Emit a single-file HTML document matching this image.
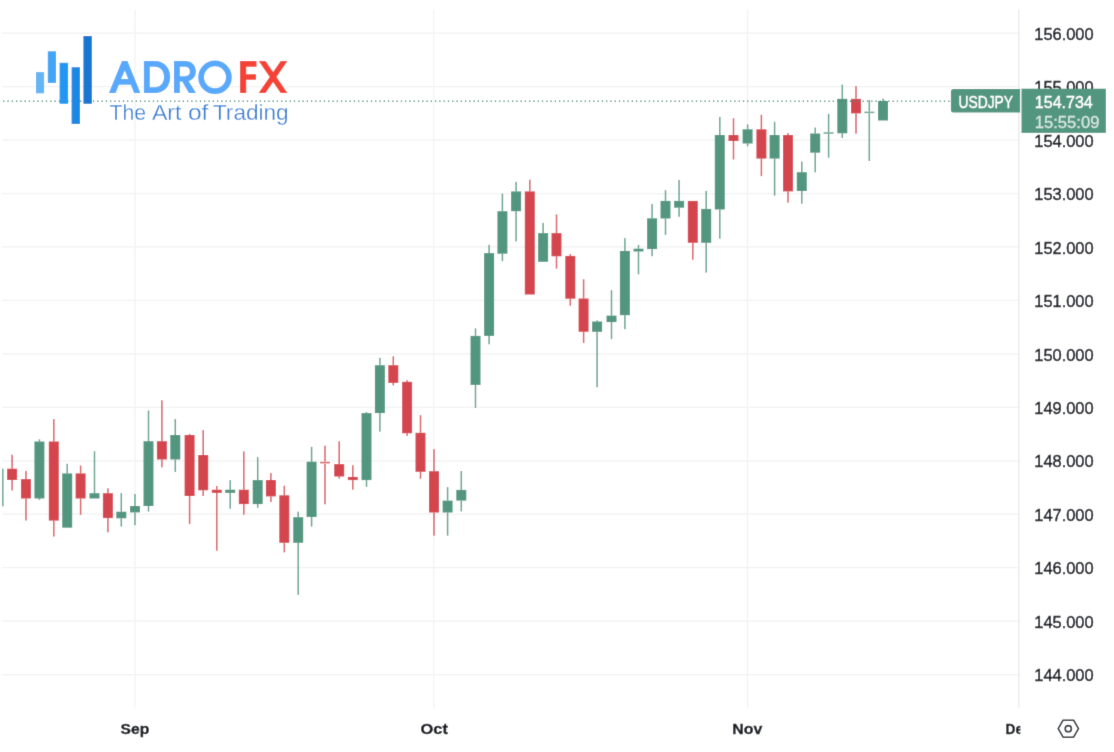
<!DOCTYPE html>
<html><head><meta charset="utf-8"><title>USDJPY</title>
<style>html,body{margin:0;padding:0;background:#fff;}body{width:1114px;height:752px;overflow:hidden;}svg{display:block;}text{font-family:"Liberation Sans",sans-serif;}</style>
</head><body>
<svg width="1114" height="752" viewBox="0 0 1114 752">
<defs><filter id="soft" x="0" y="0" width="1114" height="752" filterUnits="userSpaceOnUse"><feConvolveMatrix order="3" kernelMatrix="0.0100 0.0800 0.0100 0.0800 0.6400 0.0800 0.0100 0.0800 0.0100" edgeMode="duplicate" preserveAlpha="true"/></filter><clipPath id="plot"><rect x="2.2" y="0" width="1016.6" height="752"/></clipPath><clipPath id="plot2"><rect x="0" y="0" width="1020.3" height="752"/></clipPath></defs>
<g filter="url(#soft)">
<rect width="1114" height="752" fill="#ffffff"/>
<g stroke="#f1f2f2" stroke-width="1.25" fill="none">
<line x1="2.2" y1="33.16" x2="1019.6" y2="33.16"/>
<line x1="2.2" y1="86.61" x2="1019.6" y2="86.61"/>
<line x1="2.2" y1="140.06" x2="1019.6" y2="140.06"/>
<line x1="2.2" y1="193.51" x2="1019.6" y2="193.51"/>
<line x1="2.2" y1="246.96" x2="1019.6" y2="246.96"/>
<line x1="2.2" y1="300.41" x2="1019.6" y2="300.41"/>
<line x1="2.2" y1="353.86" x2="1019.6" y2="353.86"/>
<line x1="2.2" y1="407.31" x2="1019.6" y2="407.31"/>
<line x1="2.2" y1="460.76" x2="1019.6" y2="460.76"/>
<line x1="2.2" y1="514.21" x2="1019.6" y2="514.21"/>
<line x1="2.2" y1="567.66" x2="1019.6" y2="567.66"/>
<line x1="2.2" y1="621.11" x2="1019.6" y2="621.11"/>
<line x1="2.2" y1="674.56" x2="1019.6" y2="674.56"/>
<line x1="134.9" y1="10.0" x2="134.9" y2="707.6"/>
<line x1="433.8" y1="10.0" x2="433.8" y2="707.6"/>
<line x1="747.6" y1="10.0" x2="747.6" y2="707.6"/>
</g>
<line x1="1018.8" y1="10.0" x2="1018.8" y2="707.6" stroke="#ecedee" stroke-width="1.6"/>
<g clip-path="url(#plot)">
<rect x="-6.50" y="468.7" width="10.00" height="37.7" fill="#52967f"/>
<rect x="11.35" y="454.7" width="1.50" height="14.0" fill="#d5454e" opacity="0.88"/>
<rect x="11.35" y="480.0" width="1.50" height="10.4" fill="#d5454e" opacity="0.88"/>
<rect x="7.10" y="468.7" width="10.00" height="11.3" fill="#d5454e"/>
<rect x="25.21" y="470.9" width="1.50" height="8.2" fill="#d5454e" opacity="0.88"/>
<rect x="25.21" y="498.5" width="1.50" height="22.1" fill="#d5454e" opacity="0.88"/>
<rect x="20.96" y="479.1" width="10.00" height="19.4" fill="#d5454e"/>
<rect x="38.65" y="439.4" width="1.50" height="2.1" fill="#52967f" opacity="0.88"/>
<rect x="38.65" y="498.5" width="1.50" height="1.5" fill="#52967f" opacity="0.88"/>
<rect x="34.40" y="441.5" width="10.00" height="57.0" fill="#52967f"/>
<rect x="53.05" y="419.1" width="1.50" height="22.4" fill="#d5454e" opacity="0.88"/>
<rect x="53.05" y="520.6" width="1.50" height="16.0" fill="#d5454e" opacity="0.88"/>
<rect x="48.80" y="441.5" width="10.00" height="79.1" fill="#d5454e"/>
<rect x="66.45" y="463.8" width="1.50" height="9.6" fill="#52967f" opacity="0.88"/>
<rect x="62.20" y="473.4" width="10.00" height="54.3" fill="#52967f"/>
<rect x="79.85" y="465.5" width="1.50" height="7.9" fill="#d5454e" opacity="0.88"/>
<rect x="79.85" y="498.5" width="1.50" height="16.4" fill="#d5454e" opacity="0.88"/>
<rect x="75.60" y="473.4" width="10.00" height="25.1" fill="#d5454e"/>
<rect x="93.75" y="451.3" width="1.50" height="41.9" fill="#52967f" opacity="0.88"/>
<rect x="89.50" y="493.2" width="10.00" height="5.3" fill="#52967f"/>
<rect x="107.15" y="488.3" width="1.50" height="4.9" fill="#d5454e" opacity="0.88"/>
<rect x="107.15" y="518.1" width="1.50" height="14.2" fill="#d5454e" opacity="0.88"/>
<rect x="102.90" y="493.2" width="10.00" height="24.9" fill="#d5454e"/>
<rect x="120.55" y="493.0" width="1.50" height="18.7" fill="#52967f" opacity="0.88"/>
<rect x="120.55" y="518.3" width="1.50" height="8.3" fill="#52967f" opacity="0.88"/>
<rect x="116.30" y="511.7" width="10.00" height="6.6" fill="#52967f"/>
<rect x="134.25" y="494.0" width="1.50" height="12.0" fill="#52967f" opacity="0.88"/>
<rect x="134.25" y="512.4" width="1.50" height="12.8" fill="#52967f" opacity="0.88"/>
<rect x="130.00" y="506.0" width="10.00" height="6.4" fill="#52967f"/>
<rect x="147.75" y="410.5" width="1.50" height="30.7" fill="#52967f" opacity="0.88"/>
<rect x="147.75" y="506.0" width="1.50" height="5.6" fill="#52967f" opacity="0.88"/>
<rect x="143.50" y="441.2" width="10.00" height="64.8" fill="#52967f"/>
<rect x="161.15" y="400.3" width="1.50" height="40.9" fill="#d5454e" opacity="0.88"/>
<rect x="161.15" y="459.5" width="1.50" height="7.8" fill="#d5454e" opacity="0.88"/>
<rect x="156.90" y="441.2" width="10.00" height="18.3" fill="#d5454e"/>
<rect x="174.55" y="419.0" width="1.50" height="16.0" fill="#52967f" opacity="0.88"/>
<rect x="174.55" y="459.5" width="1.50" height="12.5" fill="#52967f" opacity="0.88"/>
<rect x="170.30" y="435.0" width="10.00" height="24.5" fill="#52967f"/>
<rect x="188.85" y="433.9" width="1.50" height="1.1" fill="#d5454e" opacity="0.88"/>
<rect x="188.85" y="496.0" width="1.50" height="28.1" fill="#d5454e" opacity="0.88"/>
<rect x="184.60" y="435.0" width="10.00" height="61.0" fill="#d5454e"/>
<rect x="202.45" y="430.1" width="1.50" height="24.9" fill="#d5454e" opacity="0.88"/>
<rect x="202.45" y="490.3" width="1.50" height="5.7" fill="#d5454e" opacity="0.88"/>
<rect x="198.20" y="455.0" width="10.00" height="35.3" fill="#d5454e"/>
<rect x="216.05" y="486.0" width="1.50" height="3.7" fill="#d5454e" opacity="0.88"/>
<rect x="216.05" y="492.9" width="1.50" height="57.8" fill="#d5454e" opacity="0.88"/>
<rect x="211.80" y="489.7" width="10.00" height="3.2" fill="#d5454e"/>
<rect x="229.45" y="480.1" width="1.50" height="9.6" fill="#52967f" opacity="0.88"/>
<rect x="229.45" y="492.9" width="1.50" height="15.9" fill="#52967f" opacity="0.88"/>
<rect x="225.20" y="489.7" width="10.00" height="3.2" fill="#52967f"/>
<rect x="243.05" y="451.4" width="1.50" height="38.3" fill="#d5454e" opacity="0.88"/>
<rect x="243.05" y="504.1" width="1.50" height="10.7" fill="#d5454e" opacity="0.88"/>
<rect x="238.80" y="489.7" width="10.00" height="14.4" fill="#d5454e"/>
<rect x="256.95" y="457.1" width="1.50" height="23.0" fill="#52967f" opacity="0.88"/>
<rect x="256.95" y="504.1" width="1.50" height="3.7" fill="#52967f" opacity="0.88"/>
<rect x="252.70" y="480.1" width="10.00" height="24.0" fill="#52967f"/>
<rect x="270.15" y="473.0" width="1.50" height="7.0" fill="#d5454e" opacity="0.88"/>
<rect x="270.15" y="496.4" width="1.50" height="5.7" fill="#d5454e" opacity="0.88"/>
<rect x="265.90" y="480.0" width="10.00" height="16.4" fill="#d5454e"/>
<rect x="283.55" y="485.7" width="1.50" height="9.6" fill="#d5454e" opacity="0.88"/>
<rect x="283.55" y="542.8" width="1.50" height="9.5" fill="#d5454e" opacity="0.88"/>
<rect x="279.30" y="495.3" width="10.00" height="47.5" fill="#d5454e"/>
<rect x="297.45" y="511.7" width="1.50" height="5.5" fill="#52967f" opacity="0.88"/>
<rect x="297.45" y="542.8" width="1.50" height="52.1" fill="#52967f" opacity="0.88"/>
<rect x="293.20" y="517.2" width="10.00" height="25.6" fill="#52967f"/>
<rect x="310.85" y="446.8" width="1.50" height="14.9" fill="#52967f" opacity="0.88"/>
<rect x="310.85" y="517.0" width="1.50" height="9.6" fill="#52967f" opacity="0.88"/>
<rect x="306.60" y="461.7" width="10.00" height="55.3" fill="#52967f"/>
<rect x="324.25" y="445.7" width="1.50" height="15.8" fill="#d5454e" opacity="0.88"/>
<rect x="324.25" y="463.8" width="1.50" height="40.5" fill="#d5454e" opacity="0.88"/>
<rect x="320.00" y="461.8" width="10.00" height="1.6" fill="#d5454e" opacity="0.8"/>
<rect x="338.45" y="441.2" width="1.50" height="22.9" fill="#d5454e" opacity="0.88"/>
<rect x="338.45" y="476.5" width="1.50" height="2.1" fill="#d5454e" opacity="0.88"/>
<rect x="334.20" y="464.1" width="10.00" height="12.4" fill="#d5454e"/>
<rect x="352.05" y="465.2" width="1.50" height="11.7" fill="#d5454e" opacity="0.88"/>
<rect x="352.05" y="480.1" width="1.50" height="9.6" fill="#d5454e" opacity="0.88"/>
<rect x="347.80" y="476.9" width="10.00" height="3.2" fill="#d5454e"/>
<rect x="365.75" y="412.0" width="1.50" height="1.1" fill="#52967f" opacity="0.88"/>
<rect x="365.75" y="480.1" width="1.50" height="6.8" fill="#52967f" opacity="0.88"/>
<rect x="361.50" y="413.1" width="10.00" height="67.0" fill="#52967f"/>
<rect x="379.15" y="357.8" width="1.50" height="7.4" fill="#52967f" opacity="0.88"/>
<rect x="379.15" y="413.1" width="1.50" height="18.5" fill="#52967f" opacity="0.88"/>
<rect x="374.90" y="365.2" width="10.00" height="47.9" fill="#52967f"/>
<rect x="392.55" y="356.3" width="1.50" height="8.9" fill="#d5454e" opacity="0.88"/>
<rect x="392.55" y="382.9" width="1.50" height="2.5" fill="#d5454e" opacity="0.88"/>
<rect x="388.30" y="365.2" width="10.00" height="17.7" fill="#d5454e"/>
<rect x="406.35" y="380.1" width="1.50" height="1.7" fill="#d5454e" opacity="0.88"/>
<rect x="406.35" y="433.3" width="1.50" height="2.6" fill="#d5454e" opacity="0.88"/>
<rect x="402.10" y="381.8" width="10.00" height="51.5" fill="#d5454e"/>
<rect x="419.75" y="415.2" width="1.50" height="17.6" fill="#d5454e" opacity="0.88"/>
<rect x="419.75" y="471.8" width="1.50" height="7.0" fill="#d5454e" opacity="0.88"/>
<rect x="415.50" y="432.8" width="10.00" height="39.0" fill="#d5454e"/>
<rect x="433.25" y="449.2" width="1.50" height="22.0" fill="#d5454e" opacity="0.88"/>
<rect x="433.25" y="512.5" width="1.50" height="23.2" fill="#d5454e" opacity="0.88"/>
<rect x="429.00" y="471.2" width="10.00" height="41.3" fill="#d5454e"/>
<rect x="446.85" y="487.2" width="1.50" height="13.4" fill="#52967f" opacity="0.88"/>
<rect x="446.85" y="512.5" width="1.50" height="23.2" fill="#52967f" opacity="0.88"/>
<rect x="442.60" y="500.6" width="10.00" height="11.9" fill="#52967f"/>
<rect x="460.55" y="471.0" width="1.50" height="18.9" fill="#52967f" opacity="0.88"/>
<rect x="460.55" y="500.6" width="1.50" height="10.8" fill="#52967f" opacity="0.88"/>
<rect x="456.30" y="489.9" width="10.00" height="10.7" fill="#52967f"/>
<rect x="474.75" y="328.4" width="1.50" height="7.5" fill="#52967f" opacity="0.88"/>
<rect x="474.75" y="384.9" width="1.50" height="23.0" fill="#52967f" opacity="0.88"/>
<rect x="470.50" y="335.9" width="10.00" height="49.0" fill="#52967f"/>
<rect x="488.35" y="244.8" width="1.50" height="8.3" fill="#52967f" opacity="0.88"/>
<rect x="488.35" y="335.9" width="1.50" height="8.4" fill="#52967f" opacity="0.88"/>
<rect x="484.10" y="253.1" width="10.00" height="82.8" fill="#52967f"/>
<rect x="501.65" y="193.7" width="1.50" height="17.5" fill="#52967f" opacity="0.88"/>
<rect x="501.65" y="253.7" width="1.50" height="7.5" fill="#52967f" opacity="0.88"/>
<rect x="497.40" y="211.2" width="10.00" height="42.5" fill="#52967f"/>
<rect x="515.35" y="181.8" width="1.50" height="9.6" fill="#52967f" opacity="0.88"/>
<rect x="515.35" y="211.2" width="1.50" height="30.2" fill="#52967f" opacity="0.88"/>
<rect x="511.10" y="191.4" width="10.00" height="19.8" fill="#52967f"/>
<rect x="529.05" y="179.7" width="1.50" height="11.7" fill="#d5454e" opacity="0.88"/>
<rect x="524.80" y="191.4" width="10.00" height="103.1" fill="#d5454e"/>
<rect x="542.35" y="222.9" width="1.50" height="10.2" fill="#52967f" opacity="0.88"/>
<rect x="538.10" y="233.1" width="10.00" height="28.7" fill="#52967f"/>
<rect x="555.75" y="214.4" width="1.50" height="18.7" fill="#d5454e" opacity="0.88"/>
<rect x="555.75" y="256.3" width="1.50" height="12.3" fill="#d5454e" opacity="0.88"/>
<rect x="551.50" y="233.1" width="10.00" height="23.2" fill="#d5454e"/>
<rect x="569.55" y="254.1" width="1.50" height="1.8" fill="#d5454e" opacity="0.88"/>
<rect x="569.55" y="298.7" width="1.50" height="7.1" fill="#d5454e" opacity="0.88"/>
<rect x="565.30" y="255.9" width="10.00" height="42.8" fill="#d5454e"/>
<rect x="582.85" y="279.3" width="1.50" height="19.2" fill="#d5454e" opacity="0.88"/>
<rect x="582.85" y="331.8" width="1.50" height="11.2" fill="#d5454e" opacity="0.88"/>
<rect x="578.60" y="298.5" width="10.00" height="33.3" fill="#d5454e"/>
<rect x="596.35" y="320.3" width="1.50" height="1.2" fill="#52967f" opacity="0.88"/>
<rect x="596.35" y="331.8" width="1.50" height="55.5" fill="#52967f" opacity="0.88"/>
<rect x="592.10" y="321.5" width="10.00" height="10.3" fill="#52967f"/>
<rect x="610.75" y="290.2" width="1.50" height="25.4" fill="#52967f" opacity="0.88"/>
<rect x="610.75" y="322.1" width="1.50" height="17.0" fill="#52967f" opacity="0.88"/>
<rect x="606.50" y="315.6" width="10.00" height="6.5" fill="#52967f"/>
<rect x="624.15" y="238.1" width="1.50" height="12.8" fill="#52967f" opacity="0.88"/>
<rect x="624.15" y="315.2" width="1.50" height="14.0" fill="#52967f" opacity="0.88"/>
<rect x="619.90" y="250.9" width="10.00" height="64.3" fill="#52967f"/>
<rect x="637.75" y="244.9" width="1.50" height="3.8" fill="#52967f" opacity="0.88"/>
<rect x="637.75" y="251.5" width="1.50" height="22.8" fill="#52967f" opacity="0.88"/>
<rect x="633.50" y="248.7" width="10.00" height="2.8" fill="#52967f"/>
<rect x="651.35" y="204.0" width="1.50" height="14.3" fill="#52967f" opacity="0.88"/>
<rect x="651.35" y="249.1" width="1.50" height="7.1" fill="#52967f" opacity="0.88"/>
<rect x="647.10" y="218.3" width="10.00" height="30.8" fill="#52967f"/>
<rect x="664.75" y="190.2" width="1.50" height="10.7" fill="#52967f" opacity="0.88"/>
<rect x="664.75" y="218.5" width="1.50" height="16.4" fill="#52967f" opacity="0.88"/>
<rect x="660.50" y="200.9" width="10.00" height="17.6" fill="#52967f"/>
<rect x="678.35" y="180.0" width="1.50" height="20.9" fill="#52967f" opacity="0.88"/>
<rect x="678.35" y="207.7" width="1.50" height="9.1" fill="#52967f" opacity="0.88"/>
<rect x="674.10" y="200.9" width="10.00" height="6.8" fill="#52967f"/>
<rect x="692.05" y="242.8" width="1.50" height="17.0" fill="#d5454e" opacity="0.88"/>
<rect x="687.80" y="200.9" width="10.00" height="41.9" fill="#d5454e"/>
<rect x="705.45" y="190.9" width="1.50" height="18.0" fill="#52967f" opacity="0.88"/>
<rect x="705.45" y="242.8" width="1.50" height="29.8" fill="#52967f" opacity="0.88"/>
<rect x="701.20" y="208.9" width="10.00" height="33.9" fill="#52967f"/>
<rect x="719.05" y="116.9" width="1.50" height="18.1" fill="#52967f" opacity="0.88"/>
<rect x="719.05" y="209.5" width="1.50" height="29.2" fill="#52967f" opacity="0.88"/>
<rect x="714.80" y="135.0" width="10.00" height="74.5" fill="#52967f"/>
<rect x="732.75" y="118.2" width="1.50" height="16.8" fill="#d5454e" opacity="0.88"/>
<rect x="732.75" y="141.0" width="1.50" height="18.5" fill="#d5454e" opacity="0.88"/>
<rect x="728.50" y="135.0" width="10.00" height="6.0" fill="#d5454e"/>
<rect x="746.85" y="124.4" width="1.50" height="4.9" fill="#52967f" opacity="0.88"/>
<rect x="746.85" y="143.5" width="1.50" height="2.8" fill="#52967f" opacity="0.88"/>
<rect x="742.60" y="129.3" width="10.00" height="14.2" fill="#52967f"/>
<rect x="760.65" y="114.8" width="1.50" height="14.5" fill="#d5454e" opacity="0.88"/>
<rect x="760.65" y="158.6" width="1.50" height="17.5" fill="#d5454e" opacity="0.88"/>
<rect x="756.40" y="129.3" width="10.00" height="29.3" fill="#d5454e"/>
<rect x="773.85" y="121.8" width="1.50" height="13.2" fill="#52967f" opacity="0.88"/>
<rect x="773.85" y="158.6" width="1.50" height="37.0" fill="#52967f" opacity="0.88"/>
<rect x="769.60" y="135.0" width="10.00" height="23.6" fill="#52967f"/>
<rect x="787.25" y="133.1" width="1.50" height="1.9" fill="#d5454e" opacity="0.88"/>
<rect x="787.25" y="191.4" width="1.50" height="11.3" fill="#d5454e" opacity="0.88"/>
<rect x="783.00" y="135.0" width="10.00" height="56.4" fill="#d5454e"/>
<rect x="801.05" y="161.6" width="1.50" height="10.6" fill="#52967f" opacity="0.88"/>
<rect x="801.05" y="191.0" width="1.50" height="12.7" fill="#52967f" opacity="0.88"/>
<rect x="796.80" y="172.2" width="10.00" height="18.8" fill="#52967f"/>
<rect x="814.45" y="127.6" width="1.50" height="5.9" fill="#52967f" opacity="0.88"/>
<rect x="814.45" y="152.7" width="1.50" height="19.7" fill="#52967f" opacity="0.88"/>
<rect x="810.20" y="133.5" width="10.00" height="19.2" fill="#52967f"/>
<rect x="827.85" y="113.8" width="1.50" height="18.4" fill="#52967f" opacity="0.88"/>
<rect x="827.85" y="133.8" width="1.50" height="23.9" fill="#52967f" opacity="0.88"/>
<rect x="823.60" y="132.2" width="10.00" height="1.6" fill="#52967f" opacity="0.8"/>
<rect x="841.55" y="84.6" width="1.50" height="14.2" fill="#52967f" opacity="0.88"/>
<rect x="841.55" y="133.3" width="1.50" height="4.7" fill="#52967f" opacity="0.88"/>
<rect x="837.30" y="98.8" width="10.00" height="34.5" fill="#52967f"/>
<rect x="855.25" y="86.1" width="1.50" height="12.7" fill="#d5454e" opacity="0.88"/>
<rect x="855.25" y="113.4" width="1.50" height="20.2" fill="#d5454e" opacity="0.88"/>
<rect x="851.00" y="98.8" width="10.00" height="14.6" fill="#d5454e"/>
<rect x="868.55" y="100.0" width="1.50" height="11.4" fill="#52967f" opacity="0.88"/>
<rect x="868.55" y="113.4" width="1.50" height="47.6" fill="#52967f" opacity="0.88"/>
<rect x="864.30" y="111.6" width="10.00" height="1.6" fill="#52967f" opacity="0.8"/>
<rect x="882.25" y="98.5" width="1.50" height="2.5" fill="#52967f" opacity="0.88"/>
<rect x="878.00" y="101.0" width="10.00" height="19.5" fill="#52967f"/>
</g>
<line x1="3.17" y1="101.15" x2="951" y2="101.15" stroke="#3f8a70" stroke-width="1.5" stroke-dasharray="1.2 3.076"/>
<g fill="#10131d" stroke="#10131d" stroke-width="0.45" font-size="16.7">
<text x="1034.3" y="39.86" textLength="59.3" lengthAdjust="spacingAndGlyphs">156.000</text>
<text x="1034.3" y="93.31" textLength="59.3" lengthAdjust="spacingAndGlyphs">155.000</text>
<text x="1034.3" y="146.76" textLength="59.3" lengthAdjust="spacingAndGlyphs">154.000</text>
<text x="1034.3" y="200.21" textLength="59.3" lengthAdjust="spacingAndGlyphs">153.000</text>
<text x="1034.3" y="253.66" textLength="59.3" lengthAdjust="spacingAndGlyphs">152.000</text>
<text x="1034.3" y="307.11" textLength="59.3" lengthAdjust="spacingAndGlyphs">151.000</text>
<text x="1034.3" y="360.56" textLength="59.3" lengthAdjust="spacingAndGlyphs">150.000</text>
<text x="1034.3" y="414.01" textLength="59.3" lengthAdjust="spacingAndGlyphs">149.000</text>
<text x="1034.3" y="467.46" textLength="59.3" lengthAdjust="spacingAndGlyphs">148.000</text>
<text x="1034.3" y="520.91" textLength="59.3" lengthAdjust="spacingAndGlyphs">147.000</text>
<text x="1034.3" y="574.36" textLength="59.3" lengthAdjust="spacingAndGlyphs">146.000</text>
<text x="1034.3" y="627.81" textLength="59.3" lengthAdjust="spacingAndGlyphs">145.000</text>
<text x="1034.3" y="681.26" textLength="59.3" lengthAdjust="spacingAndGlyphs">144.000</text>
</g>
<path d="M953.4 89.1 H1020.1 V112.6 H953.4 a2.5 2.5 0 0 1 -2.5 -2.5 V91.6 a2.5 2.5 0 0 1 2.5 -2.5 Z" fill="#52967f"/>
<rect x="1021.5" y="88.7" width="84.4" height="44.2" fill="#52967f"/>
<text x="958.4" y="107.5" font-size="16.7" fill="#ffffff" stroke="#ffffff" stroke-width="0.35" textLength="54.7" lengthAdjust="spacingAndGlyphs">USDJPY</text>
<text x="1034.8" y="107.5" font-size="16.7" fill="#ffffff" stroke="#ffffff" stroke-width="0.35" textLength="58" lengthAdjust="spacingAndGlyphs">154.734</text>
<text x="1034.8" y="127.6" font-size="16.7" fill="#ffffff" stroke="#ffffff" stroke-width="0.3" opacity="0.75" textLength="64.6" lengthAdjust="spacingAndGlyphs">15:55:09</text>
<g fill="#10131d" stroke="#10131d" stroke-width="0.35" font-size="15.5" font-weight="bold">
<text x="120.5" y="734.3" textLength="28.7" lengthAdjust="spacingAndGlyphs">Sep</text>
<text x="420.6" y="734.3" textLength="27.3" lengthAdjust="spacingAndGlyphs">Oct</text>
<text x="732.3" y="734.3" textLength="30.0" lengthAdjust="spacingAndGlyphs">Nov</text>
<g clip-path="url(#plot2)"><text x="1005.5" y="734.3" textLength="25.1" lengthAdjust="spacingAndGlyphs">Dec</text></g>
</g>
<g fill="none" stroke="#252933" stroke-width="1.6" stroke-linejoin="round">
<path d="M1058.2 728.7 L1063.1 720.2 H1073.6 L1078.5 728.7 L1073.6 737.2 H1063.1 Z"/>
<circle cx="1068.3" cy="728.7" r="3.1"/>
</g>
<g>
<rect x="36.0" y="72.1" width="8.1" height="21.2" fill="#64b5f6"/>
<rect x="47.8" y="51.3" width="8.2" height="31.6" fill="#42a5f5"/>
<rect x="59.6" y="62.8" width="8.5" height="41.0" fill="#2196f3"/>
<rect x="71.6" y="67.2" width="8.4" height="56.8" fill="#1e88e5"/>
<rect x="83.4" y="36.0" width="8.5" height="67.8" fill="#1976d2"/>
<g fill="#59a9fc" fill-rule="evenodd">
<path d="M121.95 61 H127.5 L140.4 93 H134.1 L130.9 84.8 H118.8 L115.7 93 H108.9 Z M124.8 70.4 L128.2 78.9 H121.1 Z"/>
<path d="M143.9 61 H155 C164.5 61 170.2 68 170.2 77 C170.2 86 164.5 93 155 93 H143.9 Z M149.8 66.8 H154.8 C160.5 66.8 164 71 164 77 C164 83 160.5 87.2 154.8 87.2 H149.8 Z"/>
<path d="M174 61 H185.5 C191.8 61 195.9 65.3 195.9 71.3 C195.9 76.3 193 79.9 188.6 81.1 L196 93 H188.9 L182.2 81.6 H179.9 V93 H174 Z M179.9 66.8 H185 C188 66.8 189.9 68.6 189.9 71.5 C189.9 74.4 188 76.2 185 76.2 H179.9 Z"/>
</g>
<circle cx="215" cy="77.3" r="13.9" fill="none" stroke="#59a9fc" stroke-width="5.8"/>
<g fill="#f44336">
<path d="M240.05 61 H256.5 V66.8 H246.2 V74.2 H256 V79.8 H246.2 V93 H240.05 Z"/>
<path d="M258.7 61 H265.5 L273.1 72.05 L280.7 61 H287.45 L276.45 77 L287.45 93 H280.7 L273.1 81.95 L265.5 93 H258.6 L269.7 77 Z"/>
</g>
<g font-size="21.6" fill="#2777d4" stroke="#ffffff" stroke-width="0.28">
<text x="109.6" y="120.4" textLength="36.6" lengthAdjust="spacingAndGlyphs">The</text>
<text x="151.9" y="120.4" textLength="29.6" lengthAdjust="spacingAndGlyphs">Art</text>
<text x="187.9" y="120.4" textLength="20.5" lengthAdjust="spacingAndGlyphs">of</text>
<text x="212.9" y="120.4" textLength="75.8" lengthAdjust="spacingAndGlyphs">Trading</text>
</g>
</g>
</g>
</svg>
</body></html>
